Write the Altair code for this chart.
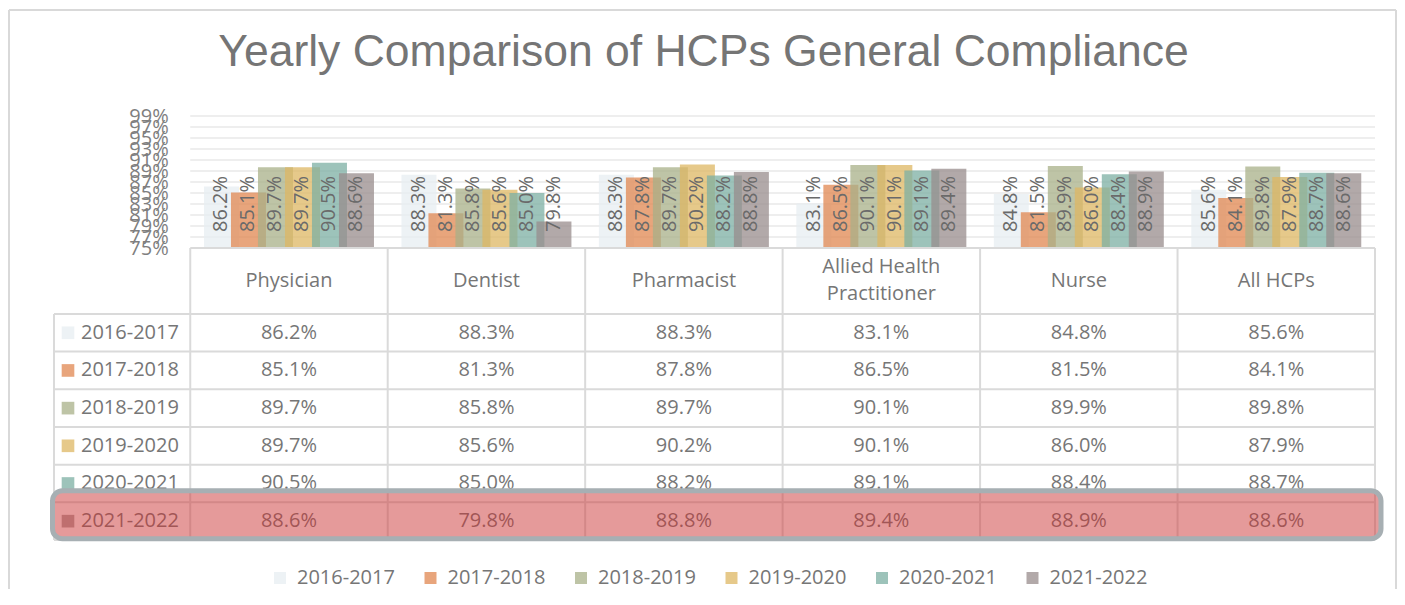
import altair as alt
import pandas as pd

# ---------------- data ----------------
categories = ["Physician", "Dentist", "Pharmacist", "Allied Health Practitioner", "Nurse", "All HCPs"]
header_lines = [["Physician"], ["Dentist"], ["Pharmacist"], ["Allied Health", "Practitioner"], ["Nurse"], ["All HCPs"]]
series = ["2016-2017", "2017-2018", "2018-2019", "2019-2020", "2020-2021", "2021-2022"]

v_2016_2017 = [86.2, 88.3, 88.3, 83.1, 84.8, 85.6]
v_2017_2018 = [85.1, 81.3, 87.8, 86.5, 81.5, 84.1]
v_2018_2019 = [89.7, 85.8, 89.7, 90.1, 89.9, 89.8]
v_2019_2020 = [89.7, 85.6, 90.2, 90.1, 86.0, 87.9]
v_2020_2021 = [90.5, 85.0, 88.2, 89.1, 88.4, 88.7]
v_2021_2022 = [88.6, 79.8, 88.8, 89.4, 88.9, 88.6]
values = [v_2016_2017, v_2017_2018, v_2018_2019, v_2019_2020, v_2020_2021, v_2021_2022]

y_ticks = [75, 77, 79, 81, 83, 85, 87, 89, 91, 93, 95, 97, 99]
grid_values = [77, 79, 81, 83, 85, 87, 89, 91, 93, 95, 97, 99]
highlight_series = "2021-2022"

colors = ["#E7EEF2", "#E08750", "#A8B088", "#DDB763", "#7CAFA3", "#988C8C"]

# ---------------- layout constants ----------------
W, H = 1321, 424          # plot area (table + bars)
BAR_H = 132               # height of bar panel
LABEL_COL = 0.69          # width of the label column in table units
HEADER = 1.75             # header row height in table units
n_cat, n_ser = len(categories), len(series)
unit = W / (n_cat + LABEL_COL)
row_px = (H - BAR_H) / (HEADER + n_ser)
LINE_GAP = 27 / row_px    # header line spacing in table units

FONT = "Open Sans"
GRAY = "#767676"

rows = []
for j, s in enumerate(series):
    for i, c in enumerate(categories):
        rows.append({"cat": c, "ci": i, "series": s, "si": j, "value": values[j][i]})
df = pd.DataFrame(rows)

head_rows = []
for i, lines in enumerate(header_lines):
    for k, line in enumerate(lines):
        head_rows.append({"ci": i, "line": line, "k": k, "n": len(lines)})
head_df = pd.DataFrame(head_rows)

# ---------------- scales ----------------
y_bar = alt.Scale(domain=[75, 99], range=[BAR_H, 0], nice=False, zero=False)
x_tab = alt.Scale(domain=[-LABEL_COL, n_cat], nice=False, zero=False)
y_tab = alt.Scale(domain=[0, HEADER + n_ser], range=[BAR_H, H], nice=False, zero=False)
color_scale = alt.Scale(domain=series, range=colors)

x_band = alt.X("cat:N", sort=categories, axis=None,
               scale=alt.Scale(domain=categories, range=[LABEL_COL * unit, W],
                               paddingInner=0, paddingOuter=0))
x_off = alt.XOffset("series:N", sort=series,
                    scale=alt.Scale(domain=series, paddingInner=0, paddingOuter=0.657))

y_axis = alt.Axis(values=y_ticks, labelExpr="datum.value + '%'",
                  offset=-LABEL_COL * unit, domain=False, ticks=False, grid=False,
                  labelPadding=22, labelFont=FONT, labelFontSize=20,
                  labelColor="#7F7F7F", labelOverlap=False, labelFlush=False,
                  labelBound=False, title=None)

# ---------------- bar panel ----------------
grid = alt.Chart(pd.DataFrame({"g": grid_values})).mark_rule(
    color="#EEEEEE", strokeWidth=2
).encode(
    y=alt.Y("g:Q", scale=y_bar, axis=y_axis),
    x=alt.value(LABEL_COL * unit),
    x2=alt.value(W),
)

bars = alt.Chart(df).mark_bar(width=35, opacity=0.75).encode(
    x=x_band,
    xOffset=x_off,
    y=alt.Y("value:Q", scale=y_bar, axis=y_axis),
    y2=alt.datum(75),
    color=alt.Color("series:N", scale=color_scale, sort=series,
                    legend=alt.Legend(orient="none", legendX=216, legendY=452,
                                      direction="horizontal", columns=6, title=None,
                                      symbolType="square", symbolSize=144,
                                      symbolStrokeWidth=0, symbolOpacity=0.75,
                                      labelFont=FONT, labelFontSize=20, labelColor=GRAY,
                                      labelOffset=7, columnPadding=25.5)),
)

bar_labels = alt.Chart(df).transform_calculate(
    label="format(datum.value, '.1f') + '%'"
).mark_text(
    angle=270, align="left", baseline="middle", dx=16,
    font=FONT, fontSize=20, color="#6A6A6A"
).encode(
    x=x_band,
    xOffset=x_off,
    y=alt.Y(datum=75, scale=y_bar, axis=y_axis),
    text="label:N",
)

bar_group = alt.layer(grid, bars, bar_labels)

# ---------------- table panel ----------------
vlines = [{"x": k, "y1": 0, "y2": HEADER + n_ser} for k in range(n_cat + 1)]
vlines.append({"x": -LABEL_COL, "y1": HEADER, "y2": HEADER + n_ser})
hlines = [{"y": HEADER + r, "x1": -LABEL_COL, "x2": n_cat} for r in range(n_ser + 1)]
hlines.append({"y": 0, "x1": 0, "x2": n_cat})

line_style = dict(color="#DADADA", strokeWidth=2)
vrules = alt.Chart(pd.DataFrame(vlines)).mark_rule(**line_style).encode(
    x=alt.X("x:Q", scale=x_tab, axis=None),
    y=alt.Y("y1:Q", scale=y_tab, axis=None),
    y2="y2:Q",
)
hrules = alt.Chart(pd.DataFrame(hlines)).mark_rule(**line_style).encode(
    y=alt.Y("y:Q", scale=y_tab, axis=None),
    x=alt.X("x1:Q", scale=x_tab, axis=None),
    x2="x2:Q",
)

header = alt.Chart(head_df).transform_calculate(
    tx="datum.ci + 0.5",
    ty=f"{HEADER / 2} + (datum.k - (datum.n - 1) / 2) * {LINE_GAP}",
).mark_text(
    font=FONT, fontSize=20, color=GRAY, baseline="middle"
).encode(
    x=alt.X("tx:Q", scale=x_tab, axis=None),
    y=alt.Y("ty:Q", scale=y_tab, axis=None),
    text="line:N",
)

ser_df = pd.DataFrame({"si": list(range(n_ser)), "series": series})
row_keys = alt.Chart(ser_df).transform_calculate(
    ty=f"datum.si + {HEADER} + 0.5"
).mark_square(size=160, opacity=0.75, strokeWidth=0).encode(
    x=alt.value(14),
    y=alt.Y("ty:Q", scale=y_tab, axis=None),
    fill=alt.Fill("series:N", scale=color_scale, legend=None),
)
row_names = alt.Chart(ser_df).transform_calculate(
    ty=f"datum.si + {HEADER} + 0.5"
).mark_text(font=FONT, fontSize=20, color=GRAY, align="left", baseline="middle").encode(
    x=alt.value(27),
    y=alt.Y("ty:Q", scale=y_tab, axis=None),
    text="series:N",
)

cells = alt.Chart(df).transform_calculate(
    tx="datum.ci + 0.5",
    ty=f"datum.si + {HEADER} + 0.5",
    label="format(datum.value, '.1f') + '%'",
).mark_text(font=FONT, fontSize=20, color=GRAY, baseline="middle").encode(
    x=alt.X("tx:Q", scale=x_tab, axis=None),
    y=alt.Y("ty:Q", scale=y_tab, axis=None),
    text="label:N",
)

hi = series.index(highlight_series)
hl_df = pd.DataFrame({"series": [highlight_series],
                      "x1": [-LABEL_COL], "x2": [n_cat],
                      "y1": [HEADER + hi], "y2": [HEADER + hi + 1]})
highlight = alt.Chart(hl_df).mark_rect(
    cornerRadius=10, fill="#CB3535", fillOpacity=0.5,
    stroke="#A7AFB3", strokeWidth=5, strokeOpacity=1,
    xOffset=-1.5, x2Offset=6, yOffset=-11.6, y2Offset=-1.3,
).encode(
    x=alt.X("x1:Q", scale=x_tab, axis=None),
    x2="x2:Q",
    y=alt.Y("y1:Q", scale=y_tab, axis=None),
    y2="y2:Q",
)

table_group = alt.layer(vrules, hrules, header, row_keys, row_names, cells, highlight)

# ---------------- outer frame ----------------
frame_style = dict(color="#D9D9D9", strokeWidth=2)
frame_left = alt.Chart().mark_rule(**frame_style).encode(
    x=alt.value(-45), y=alt.value(-106), y2=alt.value(473))
frame_top = alt.Chart().mark_rule(**frame_style).encode(
    x=alt.value(-45), x2=alt.value(1342), y=alt.value(-106))
frame_right = alt.Chart().mark_rule(**frame_style).encode(
    x=alt.value(1342), y=alt.value(-106), y2=alt.value(473))

chart = alt.layer(
    bar_group, table_group, frame_left, frame_top, frame_right
).resolve_scale(
    x="independent", y="independent"
).properties(
    width=W, height=H,
    padding={"left": 0, "top": 1, "right": 0, "bottom": 0},
    background="white",
    title=alt.TitleParams(
        text="Yearly Comparison of HCPs General Compliance",
        font="Liberation Sans", fontSize=44.5, fontWeight="normal", color="#757575",
        anchor="middle", frame="group", offset=-101, baseline="alphabetic", dx=-11,
    ),
).configure_view(stroke=None)

chart.save("out.html", embed_options={"renderer": "svg", "actions": False})
